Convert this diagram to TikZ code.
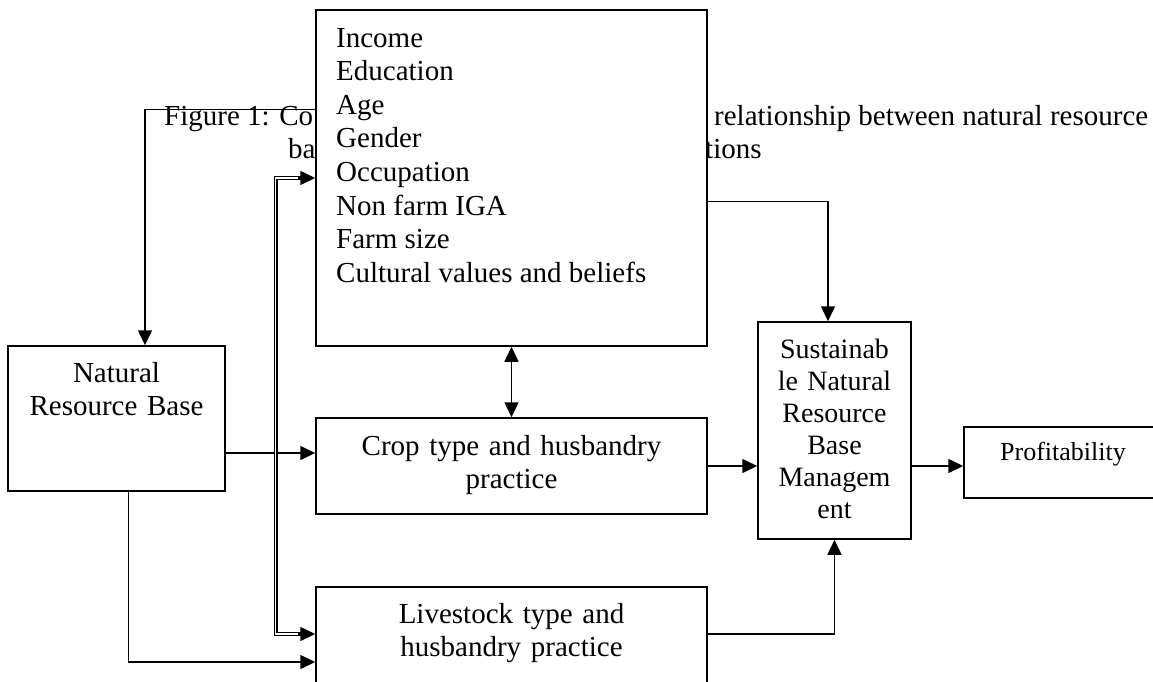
\documentclass[tikz,border=0pt]{standalone}
\usepackage{fontspec}
\setmainfont{Liberation Serif}
\usetikzlibrary{arrows.meta,calc}
\begin{document}
\begin{tikzpicture}[x=1pt,y=-1pt,
  box/.style={draw,fill=white,line width=1.5pt,inner sep=0pt},
  arr/.style={line width=1.5pt,-{Triangle[length=15pt,width=14pt]}},
  biarr/.style={line width=1.5pt,{Triangle[length=15pt,width=14pt]}-{Triangle[length=15pt,width=14pt]}},
  dbl/.style={double,double distance=1.1pt,line width=1.2pt},
  txt/.style={font=\fontsize{29pt}{33.6pt}\selectfont,inner sep=0pt},
  ]
\useasboundingbox (0,0) rectangle (1153,681);
\clip (0,0) rectangle (1153,681);
% caption fragments
\node[txt,anchor=base west] (cap1) at (164,125) {Figure 1: Co};
\node[txt,anchor=base west] (cap2) at (714,125) {relationship between natural resource};
\node[txt,anchor=base west] (cap3) at (288,158) {ba};
\node[txt,anchor=base west] (cap4) at (705,158) {tions};
% boxes
\node[box,minimum width=391pt,minimum height=336pt] (top) at (511.5,178) {};
\node[box,minimum width=217pt,minimum height=145pt] (nrb) at (116.5,418.5) {};
\node[box,minimum width=391pt,minimum height=96pt] (crop) at (511.5,466) {};
\node[box,minimum width=391pt,minimum height=113pt] (live) at (511.5,643.5) {};
\node[box,minimum width=153pt,minimum height=217pt] (snrbm) at (834.5,430.5) {};
\node[box,minimum width=198pt,minimum height=71pt] (prof) at (1063,462.5) {};
% texts
\foreach \t [count=\i] in {Income,Education,Age,Gender,Occupation,Non farm IGA,Farm size,Cultural values and beliefs}
  \node[txt,anchor=base west] (f\i) at (336,{13.4+33.6*\i}) {\t};
\node[txt,anchor=base,text width=217pt,align=center] (nrbt) at (116.5,382) {Natural\\Resource Base};
\node[txt,anchor=base,text width=380pt,align=center] (cropt) at (511.5,455) {Crop type and husbandry\\practice};
\node[txt,anchor=base,text width=380pt,align=center] (livet) at (511.5,623) {Livestock type and\\husbandry practice};
\node[anchor=base,text width=150pt,align=center,inner sep=0pt,font=\fontsize{28pt}{32pt}\selectfont] (snt) at (834.5,358) {Sustainab\\le Natural\\Resource\\Base\\Managem\\ent};
\node[anchor=base,inner sep=0pt,font=\fontsize{26pt}{30pt}\selectfont] (proft) at (1063,460) {Profitability};
% connectors
\draw[arr] ($(top.north west)+(0,100)$) -| ($(nrb.north)+(28.5,0)$);
\coordinate (c1) at ($(crop.west)+(0,-13)$);
\draw[arr] (nrb.east |- c1) -- (c1);
\coordinate (c2) at ($(nrb.south west)+(121,0)$);
\coordinate (c3) at ($(live.west)+(0,18.5)$);
\draw[arr] (c2) |- (c3);
\coordinate (d1) at ($(top.west)+(-39.5,0)$);
\coordinate (d2) at ($(live.west)+(-39.5,-9.5)$);
\draw[dbl] ($(top.west)+(-13,0)$) -- (d1) -- (d2) -- ($(d2)+(26.5,0)$);
\draw[arr] ($(top.west)+(-17,0)$) -- (top.west);
\draw[arr] ($(d2)+(22.5,0)$) -- (live.west |- d2);
\draw[biarr] (top.south) -- (crop.north);
\coordinate (c4) at ($(top.north east)+(0,192)$);
\draw[arr] (c4) -| ($(snrbm.north)+(-6.5,0)$);
\draw[arr] (crop.east) -- (snrbm.west |- crop.east);
\coordinate (c5) at ($(live.east)+(0,-9.5)$);
\draw[arr] (c5) -| (snrbm.south);
\draw[arr] (snrbm.east |- crop.east) -- (prof.west |- crop.east);
\end{tikzpicture}
\end{document}
